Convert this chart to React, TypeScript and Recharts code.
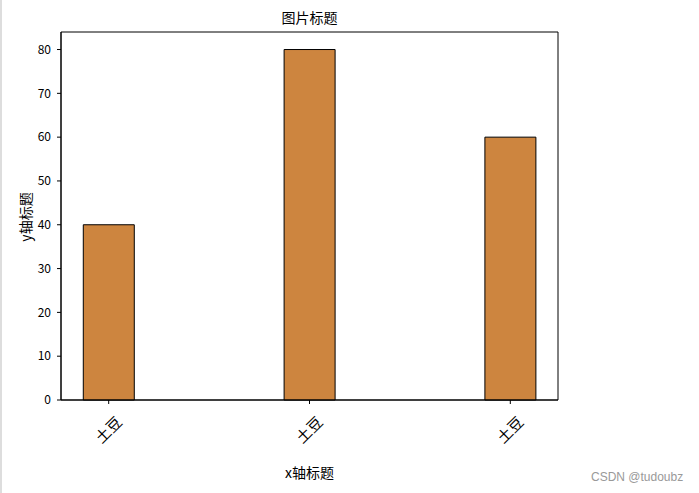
import React from 'react';
import { BarChart, Bar, XAxis, YAxis, ReferenceArea } from 'recharts';

const categories = ['土豆', '土豆', '土豆'];
const values = [40, 80, 60];
const yTicks = [0, 10, 20, 30, 40, 50, 60, 70, 80];

const data = categories.map((name, i) => ({ pos: i, name, value: values[i] }));

const FONT = '"Noto Sans CJK SC", "DejaVu Sans", sans-serif';

const RotatedTick = (props: any) => {
  const { x, y, payload } = props;
  const label = categories[payload.value] ?? '';
  return (
    <g transform={`translate(${x},${y + 24}) rotate(-45)`}>
      <text x={0} y={0} dy="0.35em" textAnchor="middle" fontSize={15} fill="#000" fontFamily={FONT}>
        {label}
      </text>
    </g>
  );
};

export default function App() {
  return (
    <div style={{ position: 'absolute', left: 0, top: 0, width: 699, height: 493, background: '#fff', fontFamily: FONT }}>
      <div style={{ position: 'absolute', left: 0, top: 0, width: 2, height: 493, background: '#ddd' }} />
      <BarChart
        width={699}
        height={493}
        data={data}
        margin={{ top: 32, right: 141, bottom: 33, left: 21 }}
      >
        <XAxis
          dataKey="pos"
          type="number"
          domain={[-0.2375, 2.2375]}
          ticks={[0, 1, 2]}
          allowDataOverflow
          height={60}
          tickSize={4}
          tick={<RotatedTick />}
          stroke="#000"
          tickLine={{ stroke: '#000' }}
          axisLine={{ stroke: '#000' }}
        />
        <YAxis
          type="number"
          domain={[0, 84]}
          ticks={yTicks}
          width={40}
          tickSize={4}
          tickMargin={6}
          interval={0}
          stroke="#000"
          tick={{ fill: '#000', fontSize: 12, fontFamily: FONT }}
        />
        <ReferenceArea x1={-0.2375} x2={2.2375} y1={0} y2={84} fill="none" stroke="#000" strokeWidth={1} ifOverflow="visible" />
        <Bar dataKey="value" barSize={51} fill="#CD853F" stroke="#000" strokeWidth={1} isAnimationActive={false} />
      </BarChart>
      <div style={{ position: 'absolute', left: 0, width: 619, top: 7, textAlign: 'center', fontSize: 14, color: '#000' }}>
        图片标题
      </div>
      <div style={{ position: 'absolute', left: 0, width: 619, top: 462, textAlign: 'center', fontSize: 14, color: '#000' }}>
        x轴标题
      </div>
      <div
        style={{
          position: 'absolute',
          left: 25,
          top: 217,
          transform: 'translate(-50%, -50%) rotate(-90deg)',
          fontSize: 14,
          whiteSpace: 'nowrap',
          color: '#000',
        }}
      >
        y轴标题
      </div>
      <div style={{ position: 'absolute', left: 591, top: 470, fontSize: 12, color: '#999', fontFamily: '"Liberation Sans", Arial, sans-serif' }}>
        CSDN @tudoubz
      </div>
    </div>
  );
}
